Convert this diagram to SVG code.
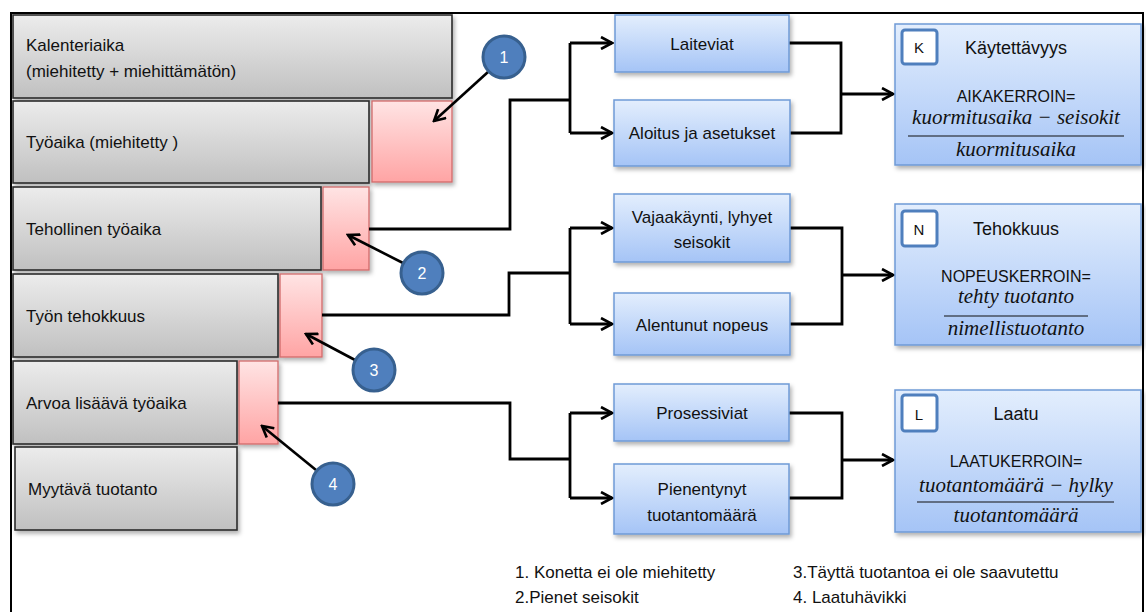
<svg xmlns="http://www.w3.org/2000/svg" width="1146" height="612" viewBox="0 0 1146 612">
<defs>
<linearGradient id="gGray" x1="0" y1="0" x2="0" y2="1"><stop offset="0" stop-color="#ececec"/><stop offset="1" stop-color="#c0c0c0"/></linearGradient>
<linearGradient id="gPink" x1="0" y1="0" x2="0" y2="1"><stop offset="0" stop-color="#ffe4e4"/><stop offset="1" stop-color="#ffa4a4"/></linearGradient>
<linearGradient id="gBlue" x1="0" y1="0" x2="0" y2="1"><stop offset="0" stop-color="#e3eefd"/><stop offset="1" stop-color="#a5c4f6"/></linearGradient>
<filter id="sh" x="-10%" y="-10%" width="130%" height="140%"><feDropShadow dx="2" dy="3" stdDeviation="2" flood-color="#000" flood-opacity="0.3"/></filter>
<marker id="ah" viewBox="0 0 14 14" refX="12" refY="7" markerWidth="14" markerHeight="14" markerUnits="userSpaceOnUse" orient="auto"><path d="M1,1 L12,7 L1,13" fill="none" stroke="#000" stroke-width="2.6"/></marker>
</defs>
<style>
.gray{fill:url(#gGray);stroke:#2b2b2b;stroke-width:1.6;filter:url(#sh)}
.pink{fill:url(#gPink);stroke:#d26a6a;stroke-width:1.3;filter:url(#sh)}
.blue{fill:url(#gBlue);stroke:#6f9ad6;stroke-width:1.5;filter:url(#sh)}
.letter{fill:#fff;stroke:#4f7fbd;stroke-width:3}
.circ{fill:#4f7fbd;stroke:#37608f;stroke-width:3}
.t{font-family:"Liberation Sans",Arial,sans-serif;font-size:17px;fill:#111}
.c{text-anchor:middle}
.ct{font-family:"Liberation Sans",Arial,sans-serif;font-size:16px;fill:#fff;text-anchor:middle}
.m{font-family:"Liberation Serif","Times New Roman",serif;font-style:italic;font-size:21px;fill:#111;text-anchor:middle}
.con{fill:none;stroke:#000;stroke-width:2.8}
.ptr{fill:none;stroke:#000;stroke-width:2.6}
</style>
<rect x="11" y="13" width="1132" height="640" fill="#fff" stroke="#000" stroke-width="2"/>

<g id="kalenteriaika"><rect class="gray" x="13" y="15" width="439" height="83"/><text class="t" x="26" y="51">Kalenteriaika</text><text class="t" x="26" y="77">(miehitetty + miehittämätön)</text></g>
<g id="tyoaika"><rect class="gray" x="13" y="101" width="356" height="82"/><text class="t" x="26" y="148">Työaika (miehitetty )</text></g>
<g id="loss1"><rect class="pink" x="372" y="101" width="80" height="81"/></g>
<g id="tehollinen"><rect class="gray" x="13" y="187" width="308" height="83"/><text class="t" x="26" y="235">Tehollinen työaika</text></g>
<g id="loss2"><rect class="pink" x="323" y="187" width="46" height="83"/></g>
<g id="tyontehokkuus"><rect class="gray" x="13" y="274" width="265" height="83"/><text class="t" x="26" y="322">Työn tehokkuus</text></g>
<g id="loss3"><rect class="pink" x="280" y="274" width="42" height="83"/></g>
<g id="arvoa"><rect class="gray" x="13" y="361" width="224" height="83"/><text class="t" x="26" y="409">Arvoa lisäävä työaika</text></g>
<g id="loss4"><rect class="pink" x="239" y="361" width="39" height="83"/></g>
<g id="myytava"><rect class="gray" x="15" y="447" width="222" height="83"/><text class="t" x="28" y="495">Myytävä tuotanto</text></g>

<g id="connectors">
<path class="con" d="M369,229 H510 V100 H570"/>
<path class="con" d="M570,43 V133"/>
<path class="con" d="M570,43 H612" marker-end="url(#ah)"/>
<path class="con" d="M570,133 H612" marker-end="url(#ah)"/>
<path class="con" d="M789,43 H841 V133 H790"/>
<path class="con" d="M841,94 H893" marker-end="url(#ah)"/>

<path class="con" d="M322,315 H509 V273 H570"/>
<path class="con" d="M570,228 V324"/>
<path class="con" d="M570,228 H612" marker-end="url(#ah)"/>
<path class="con" d="M570,324 H612" marker-end="url(#ah)"/>
<path class="con" d="M790,228 H842 V324 H790"/>
<path class="con" d="M842,275 H893" marker-end="url(#ah)"/>

<path class="con" d="M278,403 H510 V459 H570"/>
<path class="con" d="M570,413 V498"/>
<path class="con" d="M570,413 H612" marker-end="url(#ah)"/>
<path class="con" d="M570,498 H612" marker-end="url(#ah)"/>
<path class="con" d="M789,413 H842 V498 H789"/>
<path class="con" d="M842,460 H893" marker-end="url(#ah)"/>

<path class="ptr" d="M488,72 L434,121" marker-end="url(#ah)"/>
<path class="ptr" d="M403,263 L348,235" marker-end="url(#ah)"/>
<path class="ptr" d="M355,360 L306,334" marker-end="url(#ah)"/>
<path class="ptr" d="M316,470 L262,426" marker-end="url(#ah)"/>
</g>

<g id="c1"><circle class="circ" cx="504" cy="57" r="21"/><text class="ct" x="504" y="63">1</text></g>
<g id="c2"><circle class="circ" cx="422" cy="273" r="21"/><text class="ct" x="422" y="279">2</text></g>
<g id="c3"><circle class="circ" cx="374" cy="370" r="21"/><text class="ct" x="374" y="376">3</text></g>
<g id="c4"><circle class="circ" cx="333" cy="484" r="21"/><text class="ct" x="333" y="490">4</text></g>

<g id="laiteviat"><rect class="blue" x="615" y="15" width="174" height="57"/><text class="t c" x="702" y="50">Laiteviat</text></g>
<g id="aloitus"><rect class="blue" x="614" y="100" width="176" height="66"/><text class="t c" x="702" y="139">Aloitus ja asetukset</text></g>
<g id="vajaakaynti"><rect class="blue" x="614" y="194" width="176" height="68"/><text class="t c" x="702" y="223">Vajaakäynti, lyhyet</text><text class="t c" x="702" y="248">seisokit</text></g>
<g id="alentunut"><rect class="blue" x="614" y="293" width="176" height="62"/><text class="t c" x="702" y="331">Alentunut nopeus</text></g>
<g id="prosessiviat"><rect class="blue" x="614" y="384" width="175" height="57"/><text class="t c" x="702" y="419">Prosessiviat</text></g>
<g id="pienentynyt"><rect class="blue" x="614" y="464" width="175" height="70"/><text class="t c" x="702" y="495">Pienentynyt</text><text class="t c" x="702" y="521">tuotantomäärä</text></g>

<g id="kaytettavyys"><rect class="blue" x="895" y="24" width="246" height="141"/>
<rect class="letter" x="902" y="30" width="35" height="34" rx="3"/><text class="t c" x="919" y="53" style="font-size:15px">K</text>
<text class="t c" x="1016" y="54" style="font-size:18px">Käytettävyys</text>
<text class="t c" x="1016" y="102" style="font-size:16px">AIKAKERROIN=</text>
<text class="m" x="1016" y="124">kuormitusaika − seisokit</text>
<line x1="908" y1="136" x2="1124" y2="136" stroke="#111" stroke-width="1.2"/>
<text class="m" x="1016" y="156">kuormitusaika</text></g>

<g id="tehokkuus"><rect class="blue" x="895" y="204" width="246" height="141"/>
<rect class="letter" x="902" y="211" width="35" height="35" rx="3"/><text class="t c" x="919" y="235" style="font-size:15px">N</text>
<text class="t c" x="1016" y="235" style="font-size:18px">Tehokkuus</text>
<text class="t c" x="1016" y="282" style="font-size:16px">NOPEUSKERROIN=</text>
<text class="m" x="1016" y="303">tehty tuotanto</text>
<line x1="944" y1="316" x2="1088" y2="316" stroke="#111" stroke-width="1.2"/>
<text class="m" x="1016" y="335">nimellistuotanto</text></g>

<g id="laatu"><rect class="blue" x="895" y="390" width="246" height="142"/>
<rect class="letter" x="902" y="395" width="35" height="36" rx="3"/><text class="t c" x="919" y="420" style="font-size:15px">L</text>
<text class="t c" x="1016" y="420" style="font-size:18px">Laatu</text>
<text class="t c" x="1016" y="467" style="font-size:16px">LAATUKERROIN=</text>
<text class="m" x="1016" y="492">tuotantomäärä − hylky</text>
<line x1="917" y1="502" x2="1114" y2="502" stroke="#111" stroke-width="1.2"/>
<text class="m" x="1016" y="522">tuotantomäärä</text></g>

<g id="legend">
<text class="t" x="515" y="578">1. Konetta ei ole miehitetty</text>
<text class="t" x="515" y="603">2.Pienet seisokit</text>
<text class="t" x="793" y="578">3.Täyttä tuotantoa ei ole saavutettu</text>
<text class="t" x="793" y="603">4. Laatuhävikki</text>
</g>
</svg>
